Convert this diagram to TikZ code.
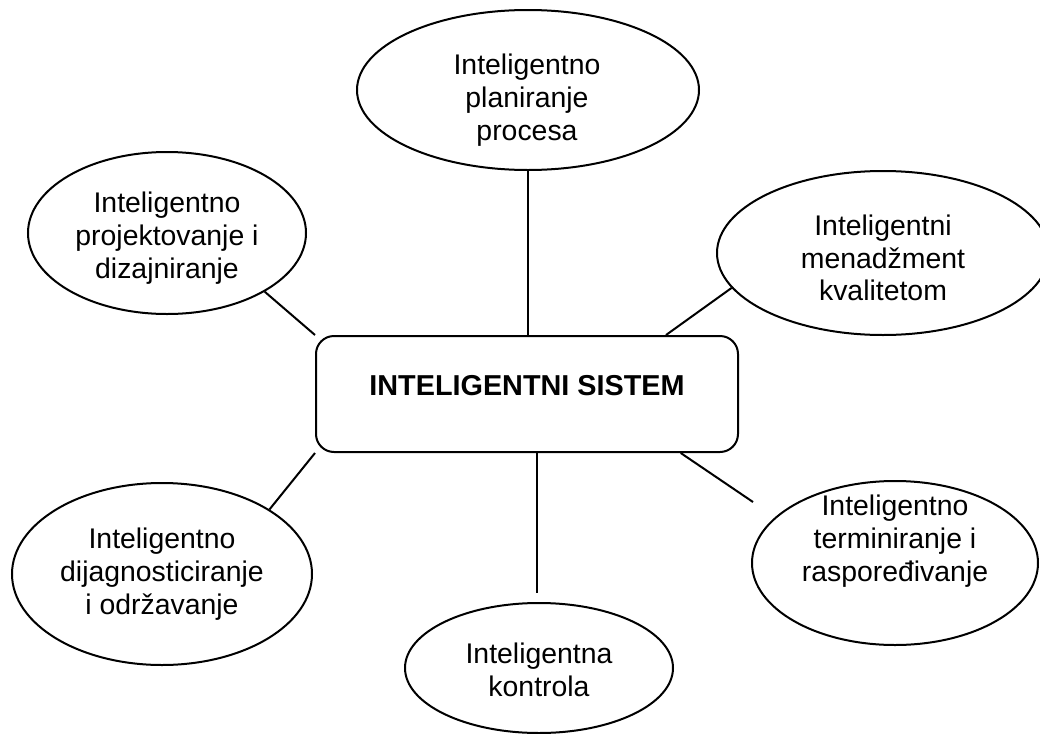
\documentclass[tikz,border=0pt]{standalone}
\usepackage{fontspec}
\setmainfont{Liberation Sans}
\usepackage{tikz}
\usetikzlibrary{shapes.geometric}

\begin{document}
\begin{tikzpicture}[x=.5pt,y=-.5pt,line width=1pt,
  oval/.style={draw,ellipse,inner sep=0pt},
  txt/.style={align=center,inner sep=0pt,font=\fontsize{14.2pt}{16.4pt}\selectfont},
  sysbox/.style={draw,rounded corners=9pt,minimum width=211pt,minimum height=58pt,inner sep=0pt,
    font=\fontsize{14.4pt}{16pt}\selectfont\bfseries,text height=10pt,text depth=9pt}]
\useasboundingbox (0,0) rectangle (1040,734);
% centre
\node[sysbox] (sys) at (527,394) {INTELIGENTNI SISTEM};
% ellipses round it
\node[oval,minimum width=171pt,minimum height=80pt] (plan) at (528,90) {};
\node[txt] (plan-t) at (527,100) {Inteligentno\\planiranje\\procesa};
\node[oval,minimum width=139pt,minimum height=81pt] (proj) at (167,233) {};
\node[txt] (proj-t) at (167,238) {Inteligentno\\projektovanje i\\dizajniranje};
\node[oval,minimum width=166pt,minimum height=82pt] (qual) at (883,253) {};
\node[txt] (qual-t) at (883,258) {Inteligentni\\menadžment\\kvalitetom};
\node[oval,minimum width=143pt,minimum height=82pt] (term) at (895,563) {};
\node[txt] (term-t) at (895,541) {Inteligentno\\terminiranje i\\raspoređivanje};
\node[oval,minimum width=134pt,minimum height=65pt] (kontr) at (539,668) {};
\node[txt] (kontr-t) at (539,670) {Inteligentna\\kontrola};
\node[oval,minimum width=150pt,minimum height=91pt] (diag) at (162,574) {};
\node[txt] (diag-t) at (162,574) {Inteligentno\\dijagnosticiranje\\i održavanje};
% free ends
\coordinate (term-end) at (753,502);
\coordinate (kontr-end) at (537,593);
% connectors
\draw (plan.south) -- (plan.south |- sys.north);
\draw (proj.-31) -- (sys.north west);
\draw (qual.193) -- (sys.23.7);
\draw (sys.-21.4) -- (term-end);
\draw (kontr-end |- sys.south) -- (kontr-end);
\draw (sys.south west) -- (diag.31);
\end{tikzpicture}
\end{document}
